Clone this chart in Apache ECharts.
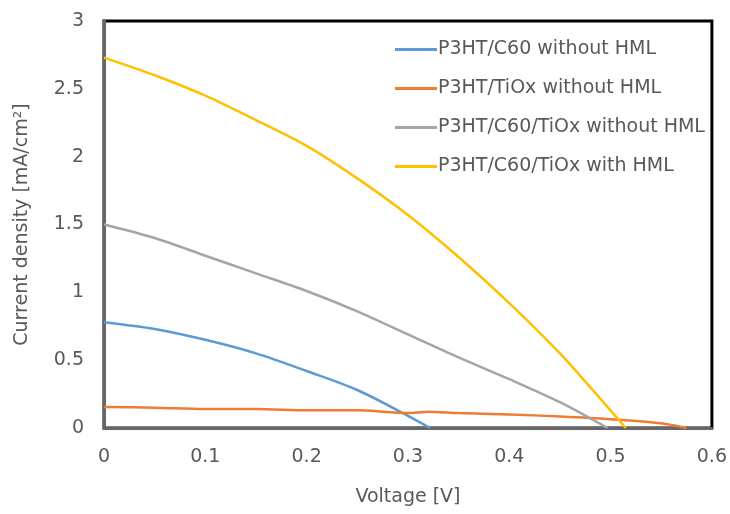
<!DOCTYPE html>
<html>
<head>
<meta charset="utf-8">
<script src="https://cdn.jsdelivr.net/npm/echarts@6/dist/echarts.min.js"></script>
<style>
  html, body { margin: 0; padding: 0; background: #fff; }
  #chart { width: 730px; height: 514px; }
</style>
</head>
<body>
<div id="chart"></div>
<script>
// J-V curves
const names = [
  "P3HT/C60 without HML",
  "P3HT/TiOx without HML",
  "P3HT/C60/TiOx without HML",
  "P3HT/C60/TiOx with HML"
];
const colors = ["#5B9BD5", "#ED7D31", "#A5A5A5", "#FFC000"];

const vC60 = [0, 0.05, 0.1, 0.15, 0.2, 0.25, 0.3, 0.322];
const jC60 = [0.78, 0.73, 0.65, 0.55, 0.42, 0.28, 0.09, 0];

const vTiOx = [0, 0.05, 0.1, 0.15, 0.2, 0.25, 0.3, 0.32, 0.35, 0.4, 0.45, 0.5, 0.55, 0.575];
const jTiOx = [0.155, 0.15, 0.14, 0.14, 0.13, 0.13, 0.11, 0.12, 0.11, 0.1, 0.085, 0.065, 0.035, 0];

const vBoth = [0, 0.05, 0.1, 0.15, 0.2, 0.25, 0.3, 0.35, 0.4, 0.45, 0.497];
const jBoth = [1.5, 1.4, 1.27, 1.14, 1.01, 0.86, 0.69, 0.52, 0.36, 0.19, 0];

const vHml = [0, 0.05, 0.1, 0.15, 0.2, 0.25, 0.3, 0.35, 0.4, 0.45, 0.48, 0.515];
const jHml = [2.73, 2.6, 2.45, 2.27, 2.08, 1.84, 1.57, 1.26, 0.92, 0.55, 0.3, 0];

const xs = [vC60, vTiOx, vBoth, vHml];
const ys = [jC60, jTiOx, jBoth, jHml];

const pairs = (v, j) => v.map((x, i) => [x, j[i]]);

const font = "DejaVu Sans";
const textColor = "#595959";

const chart = echarts.init(document.getElementById("chart"));
chart.setOption({
  backgroundColor: "#fff",
  animation: false,
  grid: {
    left: 104, right: 18, top: 21, bottom: 86,
    show: true, borderColor: "#000", borderWidth: 3
  },
  legend: {
    orient: "vertical",
    left: 390, top: 35,
    itemWidth: 42, itemHeight: 3, itemGap: 20,
    icon: "rect",
    textStyle: { fontFamily: font, fontSize: 19, color: textColor, padding: [0, 0, 0, -4] },
    data: names
  },
  xAxis: {
    type: "value",
    min: 0, max: 0.6, interval: 0.1,
    name: "Voltage [V]",
    nameLocation: "middle",
    nameGap: 60,
    nameTextStyle: { fontFamily: font, fontSize: 19, color: textColor },
    axisLine: { show: true, lineStyle: { color: "#666", width: 3 } },
    axisTick: { show: false },
    splitLine: { show: false },
    axisLabel: { fontFamily: font, fontSize: 19, color: textColor, margin: 20 }
  },
  yAxis: {
    type: "value",
    min: 0, max: 3, interval: 0.5,
    name: "Current density [mA/cm²]",
    nameLocation: "middle",
    nameGap: 72,
    nameTextStyle: { fontFamily: font, fontSize: 19, color: textColor },
    axisLine: { show: true, lineStyle: { color: "#666", width: 3 } },
    axisTick: { show: false },
    splitLine: { show: false },
    axisLabel: { fontFamily: font, fontSize: 19, color: textColor, margin: 20 }
  },
  series: names.map((n, k) => ({
    name: n,
    type: "line",
    data: pairs(xs[k], ys[k]),
    smooth: 0.3,
    showSymbol: false,
    lineStyle: { color: colors[k], width: 2.5 },
    itemStyle: { color: colors[k] }
  }))
});
</script>
</body>
</html>
